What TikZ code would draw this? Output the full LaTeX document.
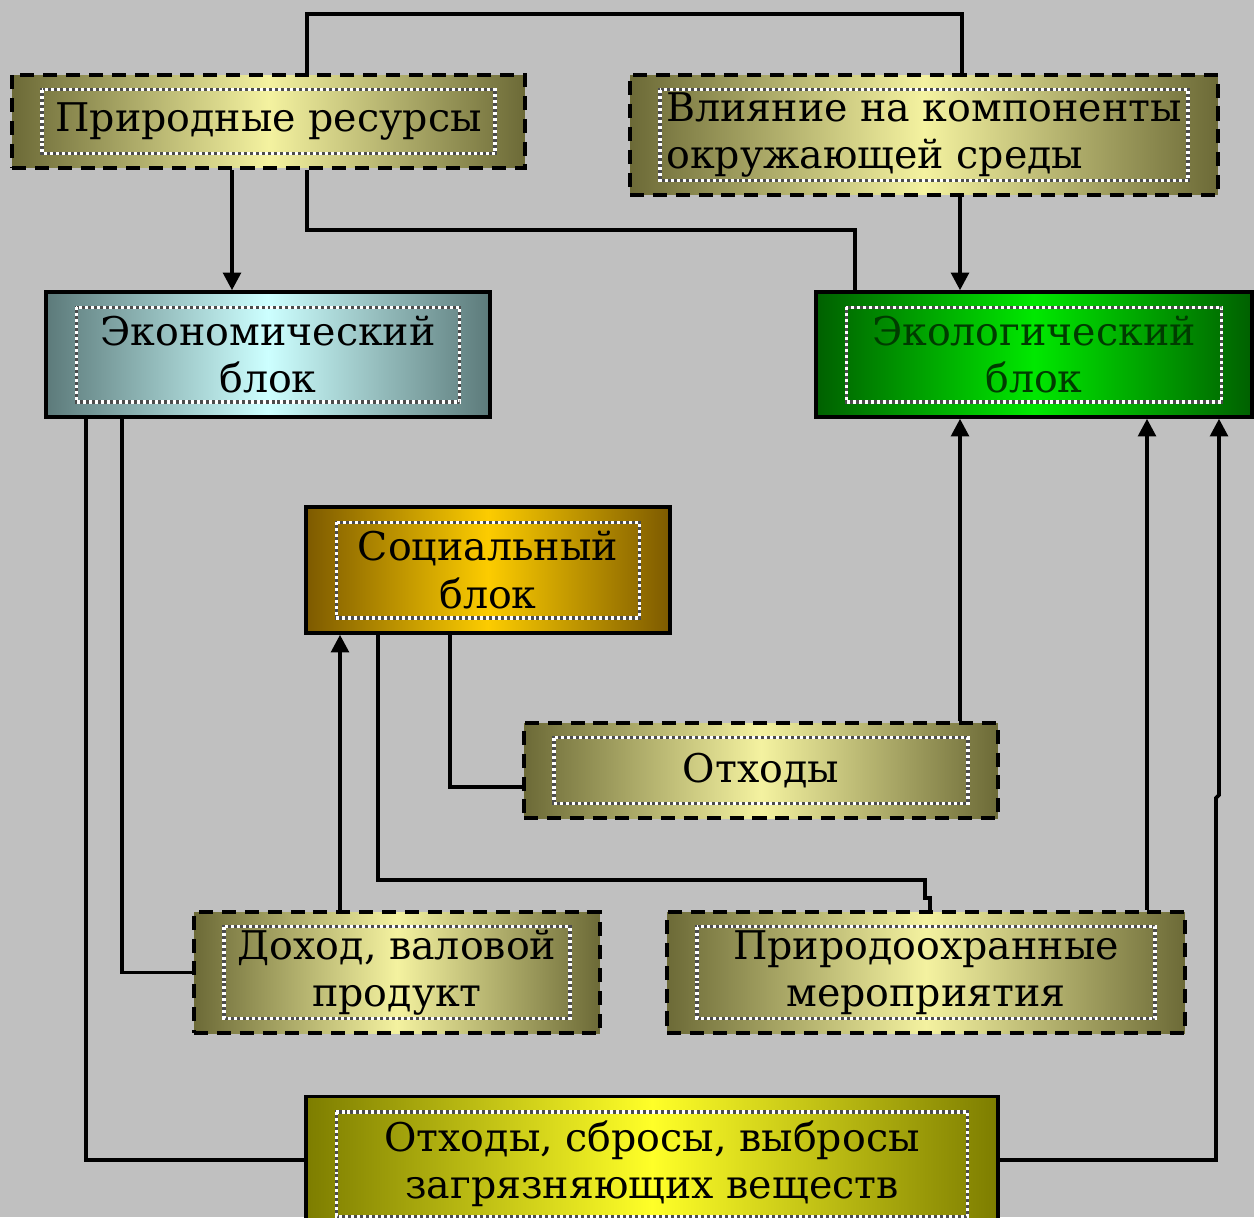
\documentclass[tikz,border=0pt]{standalone}
\usepackage{fontspec}
\setmainfont{DejaVu Serif}
\usetikzlibrary{arrows.meta,calc}
\definecolor{bg}{RGB}{192,192,192}
\definecolor{oliveedge}{RGB}{108,106,55}
\definecolor{olivemid}{RGB}{244,242,160}
\definecolor{econedge}{RGB}{92,122,122}
\definecolor{econmid}{RGB}{205,255,255}
\definecolor{ecoledge}{RGB}{0,96,0}
\definecolor{ecolmid}{RGB}{0,232,0}
\definecolor{ecoltext}{RGB}{0,60,0}
\definecolor{socedge}{RGB}{125,90,0}
\definecolor{socmid}{RGB}{252,204,0}
\definecolor{polledge}{RGB}{125,125,0}
\definecolor{pollmid}{RGB}{255,255,40}
\begin{document}
\begin{tikzpicture}[x=0.02cm,y=-0.02cm,
  box/.style={rectangle,draw=black,line width=2pt,inner sep=0pt,align=center,text=black,
    font=\fontsize{22.5}{27}\selectfont},
  dashbox/.style={box,line width=2.6pt,dash pattern=on 8pt off 5pt},
  olivefill/.style={left color=oliveedge,right color=oliveedge,middle color=olivemid},
  econfill/.style={left color=econedge,right color=econedge,middle color=econmid},
  ecolfill/.style={left color=ecoledge,right color=ecoledge,middle color=ecolmid},
  socfill/.style={left color=socedge,right color=socedge,middle color=socmid},
  pollfill/.style={left color=polledge,right color=polledge,middle color=pollmid},
  conn/.style={draw=black,line width=2.1pt},
  arr/.style={conn,-{Triangle[length=10pt,width=10pt]}},
  dotback/.style={draw=black!70,line width=2pt},
  dotfront/.style={draw=white,line width=2pt,dash pattern=on 1.7pt off 1.7pt}
]
\clip (0,0) rectangle (1254,1217);
\fill[bg] (0,0) rectangle (1254,1217);

% boxes
\node[dashbox,olivefill,minimum width=10.26cm,minimum height=1.86cm] (A) at (268.5,121.5) {Природные ресурсы};
\node[dashbox,olivefill,minimum width=11.76cm,minimum height=2.4cm,align=left] (B) at (924,135) {Влияние на компоненты\\окружающей среды};
\node[box,econfill,minimum width=8.88cm,minimum height=2.5cm] (C) at (268,354.5) {Экономический\\блок};
\node[box,ecolfill,minimum width=8.72cm,minimum height=2.5cm,text=ecoltext] (D) at (1034,354.5) {Экологический\\блок};
\node[box,socfill,minimum width=7.28cm,minimum height=2.52cm] (E) at (488,570) {Социальный\\блок};
\node[dashbox,olivefill,minimum width=9.48cm,minimum height=1.9cm] (F) at (761,770.5) {Отходы};
\node[dashbox,olivefill,minimum width=8.12cm,minimum height=2.42cm] (G) at (397,972.5) {Доход, валовой\\продукт};
\node[dashbox,olivefill,minimum width=10.36cm,minimum height=2.42cm] (H) at (926,972.5) {Природоохранные\\мероприятия};
\node[box,pollfill,minimum width=13.84cm,minimum height=2.7cm] (I) at (652,1164) {Отходы, сбросы, выбросы\\загрязняющих веществ};

% inner dotted frames
\foreach \n in {A,B,C,D,E,F,G,H,I}{
  \draw[dotback] ([shift={(32,17)}]\n.north west) rectangle ([shift={(-32,-17)}]\n.south east);
  \draw[dotfront] ([shift={(32,17)}]\n.north west) rectangle ([shift={(-32,-17)}]\n.south east);
}

% connectors
\draw[conn] (307,0 |- A.north) |- (962,14) -- (962,0 |- B.north);
\draw[arr] (232,0 |- A.south) -- (232,0 |- C.north);
\draw[conn] (307,0 |- A.south) |- (855,230) -- (855,0 |- D.north);
\draw[arr] (960,0 |- B.south) -- (960,0 |- D.north);
\draw[conn] (86,0 |- C.south) |- (I.west |- 0,1160);
\draw[conn] (122,0 |- C.south) |- (G.west);
\draw[arr] (340,0 |- G.north) -- (340,0 |- E.south);
\draw[conn] (378,0 |- E.south) |- (925,880) -- (925,898) -| (930,0 |- H.north);
\draw[conn] (450,0 |- E.south) |- (F.west |- 0,787);
\draw[arr] (960,0 |- F.north) -- (960,0 |- D.south);
\draw[arr] (1147,0 |- H.north) -- (1147,0 |- D.south);
\draw[arr] (I.east |- 0,1160) -| (1216,798) -- (1219,795) -- (1219,0 |- D.south);
\end{tikzpicture}
\end{document}
